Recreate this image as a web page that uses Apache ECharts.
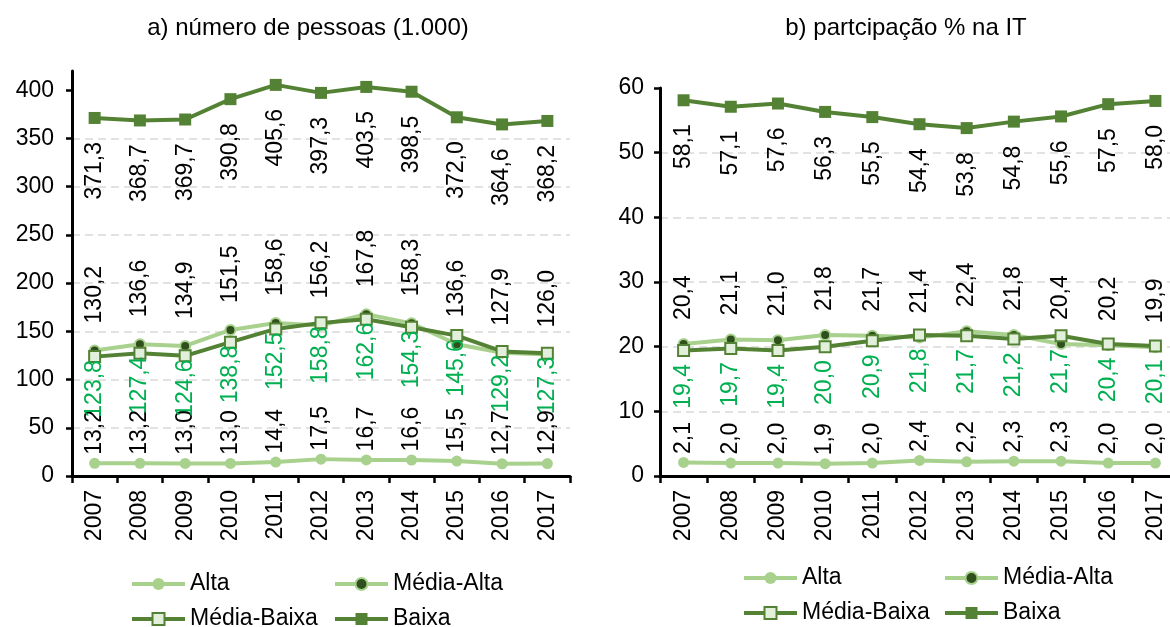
<!DOCTYPE html>
<html>
<head>
<meta charset="utf-8">
<script src="https://cdn.jsdelivr.net/npm/echarts@6/dist/echarts.min.js"></script>
<style>
html,body{margin:0;padding:0;background:#fff;}
#c{width:1170px;height:627px;}
</style>
</head>
<body>
<div id="c"></div>
<script>
const years = ['2007','2008','2009','2010','2011','2012','2013','2014','2015','2016','2017'];
const seriesNames = ['Alta','Média-Alta','Média-Baixa','Baixa'];
const titleA = 'a) número de pessoas (1.000)';
const titleB = 'b) partcipação % na IT';

// a) number of persons (thousands)
const altaA = [13.2,13.2,13.0,13.0,14.4,17.5,16.7,16.6,15.5,12.7,12.9];
const mediaAltaA = [130.2,136.6,134.9,151.5,158.6,156.2,167.8,158.3,136.6,127.9,126.0];
const mediaBaixaA = [123.8,127.4,124.6,138.8,152.5,158.8,162.6,154.3,145.6,129.2,127.3];
const baixaA = [371.3,368.7,369.7,390.8,405.6,397.3,403.5,398.5,372.0,364.6,368.2];

// b) share % in IT
const altaB = [2.1,2.0,2.0,1.9,2.0,2.4,2.2,2.3,2.3,2.0,2.0];
const mediaAltaB = [20.4,21.1,21.0,21.8,21.7,21.4,22.4,21.8,20.4,20.2,19.9];
const mediaBaixaB = [19.4,19.7,19.4,20.0,20.9,21.8,21.7,21.2,21.7,20.4,20.1];
const baixaB = [58.1,57.1,57.6,56.3,55.5,54.4,53.8,54.8,55.6,57.5,58.0];

const ticksA = [0,50,100,150,200,250,300,350,400];
const ticksB = [0,10,20,30,40,50,60];

const FONT = '"Liberation Sans", Arial, Helvetica, sans-serif';
const FS = 23;
const LIGHT = '#A9D18E';
const DARK = '#548235';
const DARKEST = '#2F4F1C';
const PALE = '#E2EFDA';
const GREEN_TXT = '#00B050';

const fmt = p => p.value.toFixed(1).replace('.', ',');

function lbl(pos, dist, color, above) {
  return {
    show: true, position: pos, distance: dist, rotate: 90,
    align: above ? 'left' : 'right', verticalAlign: 'middle',
    color: color, fontSize: FS, fontFamily: FONT, formatter: fmt
  };
}

function makeSeries(idx, data, cfg) {
  return [
    { name: 'Alta', type: 'line', xAxisIndex: idx, yAxisIndex: idx, data: data[0],
      symbol: 'circle', symbolSize: 11, z: 2,
      lineStyle: { color: LIGHT, width: 4 },
      itemStyle: { color: LIGHT, borderColor: LIGHT, borderWidth: 0 },
      label: lbl('top', cfg.alta, '#000', true) },
    { name: 'Média-Alta', type: 'line', xAxisIndex: idx, yAxisIndex: idx, data: data[1],
      symbol: 'circle', symbolSize: 10, z: 3,
      lineStyle: { color: LIGHT, width: 4 },
      itemStyle: { color: DARKEST, borderColor: LIGHT, borderWidth: 2 },
      label: lbl('top', cfg.ma, '#000', true) },
    { name: 'Média-Baixa', type: 'line', xAxisIndex: idx, yAxisIndex: idx, data: data[2],
      symbol: 'rect', symbolSize: 11, z: 4,
      lineStyle: { color: DARK, width: 4 },
      itemStyle: { color: PALE, borderColor: DARK, borderWidth: 2 },
      label: lbl('bottom', cfg.mb, GREEN_TXT, false) },
    { name: 'Baixa', type: 'line', xAxisIndex: idx, yAxisIndex: idx, data: data[3],
      symbol: 'rect', symbolSize: 12, z: 5,
      lineStyle: { color: DARK, width: 4 },
      itemStyle: { color: DARK, borderColor: DARK, borderWidth: 0 },
      label: lbl('bottom', cfg.b, '#000', false) }
  ];
}

function xAxis(idx) {
  return {
    type: 'category', gridIndex: idx, data: years, boundaryGap: true,
    axisLine: { lineStyle: { color: '#000', width: 3 } },
    axisTick: { show: true, alignWithLabel: false, interval: 0, length: 7, lineStyle: { color: '#000', width: 2.5 } },
    axisLabel: { rotate: 90, interval: 0, margin: 14, color: '#000', fontSize: FS, fontFamily: FONT },
    splitLine: { show: false }
  };
}

function yAxis(idx, max, interval, ticks, margin) {
  return {
    type: 'value', gridIndex: idx, min: 0, max: max, interval: interval,
    axisLine: { show: true, lineStyle: { color: '#000', width: 3 } },
    axisTick: { show: true, length: 6, customValues: ticks, lineStyle: { color: '#000', width: 2.5 } },
    axisLabel: { margin: margin, customValues: ticks, color: '#000', fontSize: FS, fontFamily: FONT },
    splitLine: { show: true, showMaxLine: false, lineStyle: { color: '#D9D9D9', width: 1.5, type: [8, 5] } }
  };
}

function legend(name, left, centerY) {
  return {
    data: [name], orient: 'horizontal', left: left, top: centerY - 12,
    itemWidth: 53, itemHeight: 15, itemGap: 0, padding: 0,
    lineStyle: { width: 4 },
    textStyle: { color: '#000', fontSize: FS, fontFamily: FONT, lineHeight: 24 },
    selectedMode: false
  };
}

const chart = echarts.init(document.getElementById('c'), null, { renderer: 'canvas' });
chart.setOption({
  animation: false,
  backgroundColor: '#fff',
  textStyle: { fontFamily: FONT },
  graphic: [
    { type: 'text', x: 308, y: 28, style: { text: titleA, fill: '#000', font: '24px ' + FONT, textAlign: 'center', textVerticalAlign: 'middle' } },
    { type: 'text', x: 906, y: 28, style: { text: titleB, fill: '#000', font: '24px ' + FONT, textAlign: 'center', textVerticalAlign: 'middle' } }
  ],
  grid: [
    { left: 72, top: 71, width: 498, height: 405, outerBoundsMode: 'none', containLabel: false },
    { left: 660, top: 88, width: 519, height: 388, outerBoundsMode: 'none', containLabel: false }
  ],
  xAxis: [xAxis(0), xAxis(1)],
  yAxis: [yAxis(0, 420, 50, ticksA, 18), yAxis(1, 60, 10, ticksB, 16)],
  legend: [
    legend(seriesNames[0], 130, 584),
    legend(seriesNames[1], 333, 584),
    legend(seriesNames[2], 130, 619),
    legend(seriesNames[3], 333, 619),
    legend(seriesNames[0], 742, 578),
    legend(seriesNames[1], 943, 578),
    legend(seriesNames[2], 742, 613),
    legend(seriesNames[3], 943, 613)
  ],
  series: [
    ...makeSeries(0, [altaA, mediaAltaA, mediaBaixaA, baixaA], { alta: 3, ma: 21, mb: -3, b: 18 }),
    ...makeSeries(1, [altaB, mediaAltaB, mediaBaixaB, baixaB], { alta: 3, ma: 18, mb: 7, b: 18 })
  ]
});
</script>
</body>
</html>
